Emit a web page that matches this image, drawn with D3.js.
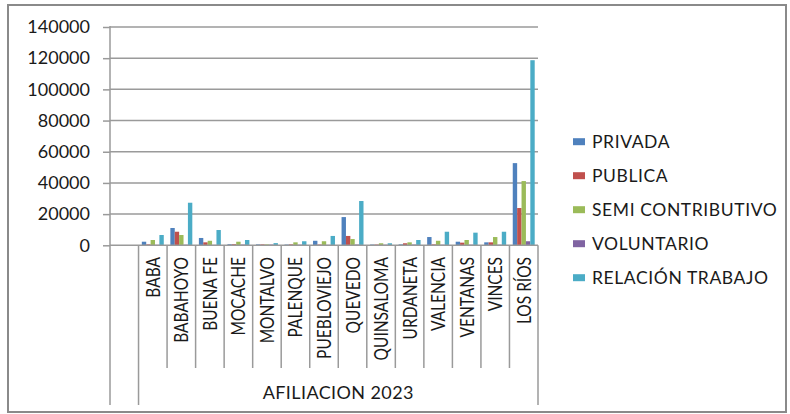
<!DOCTYPE html>
<html>
<head>
<meta charset="utf-8">
<script src="https://cdn.jsdelivr.net/npm/d3@7"></script>
<style>
  body { margin: 0; background: #fff; }
  svg text { font-family: Lato, "Open Sans", sans-serif; fill: #1a1a1a; }
</style>
</head>
<body>
<svg width="790" height="414"></svg>
<script>
// categories (first slot of the axis is blank, as in the original sheet)
var cantones = ["", "BABA", "BABAHOYO", "BUENA FE", "MOCACHE", "MONTALVO", "PALENQUE",
    "PUEBLOVIEJO", "QUEVEDO", "QUINSALOMA", "URDANETA", "VALENCIA", "VENTANAS", "VINCES", "LOS RÍOS"];
var series = ["PRIVADA", "PUBLICA", "SEMI CONTRIBUTIVO", "VOLUNTARIO", "RELACIÓN TRABAJO"];
var colores = ["#4F81BD", "#C0504D", "#9BBB59", "#8064A2", "#4BACC6"];

var privada   = [null, 2300, 11100, 4700, 700, 600, 500, 2900, 18100, 500, 600, 5300, 2300, 1900, 52700];
var publica   = [null, 600, 8700, 1900, 700, 600, 600, 500, 6000, 500, 1300, 600, 1700, 1900, 23900];
var semi      = [null, 3400, 6600, 2900, 2300, 600, 1900, 2600, 4000, 1300, 1900, 2900, 3400, 5300, 41200];
var voluntario = [null, 300, 400, 300, 500, 500, 400, 300, 500, 400, 500, 400, 400, 400, 2600];
var relacion  = [null, 6600, 27300, 9800, 3400, 1400, 2600, 6000, 28400, 1300, 3400, 8700, 8100, 8700, 118700];

var yTicks = [0, 20000, 40000, 60000, 80000, 100000, 120000, 140000];
var grupo = "AFILIACION 2023";

var valores = [privada, publica, semi, voluntario, relacion];

main();

function main() {
    var svg = d3.select("svg");

    var x0 = 110, x1 = 538, yTop = 27, base = 245.3;

    // borde del gráfico
    svg.append("rect")
        .attr("x", 8).attr("y", 5)
        .attr("width", 778).attr("height", 407)
        .attr("fill", "none")
        .attr("stroke", "#8a8a8a")
        .attr("stroke-width", 2);

    var x = d3.scaleBand().domain(d3.range(cantones.length)).range([x0, x1]).padding(0);
    var bw = x.bandwidth();
    var gap = bw * 1.5 / (series.length + 1.5);
    var xs = d3.scaleBand().domain(d3.range(series.length)).range([gap / 2, bw - gap / 2]).padding(0);

    var y = d3.scaleLinear().domain([0, 140000]).range([base, yTop]);

    // gridlines
    svg.append("g").selectAll("line")
        .data(yTicks.slice(1))
        .enter().append("line")
        .attr("x1", x0).attr("x2", x1)
        .attr("y1", d => y(d)).attr("y2", d => y(d))
        .attr("stroke", "#9a9a9a")
        .attr("stroke-width", 1.5);

    // eje y
    var yAxis = svg.append("g")
        .attr("transform", "translate(" + x0 + ",0)")
        .call(d3.axisLeft(y).tickValues(yTicks).tickSize(7).tickPadding(13).tickFormat(d3.format("d")));
    yAxis.select(".domain").remove();
    yAxis.selectAll("line").attr("stroke", "#9a9a9a").attr("stroke-width", 1.5);
    yAxis.selectAll("text")
        .style("font-size", "18px")
        .style("font-family", "Lato, sans-serif")
        .attr("fill", "#1a1a1a");

    // barras
    var barras = svg.append("g");
    valores.forEach(function (serie, s) {
        barras.selectAll("rect.s" + s)
            .data(serie.map((v, i) => ({ i: i, v: v })).filter(d => d.v != null))
            .enter().append("rect")
            .attr("class", "s" + s)
            .attr("x", d => x(d.i) + xs(s))
            .attr("width", xs.bandwidth())
            .attr("y", d => y(d.v))
            .attr("height", d => base - y(d.v))
            .attr("fill", colores[s]);
    });

    // eje de categorías (dos niveles)
    var ejes = svg.append("g").attr("stroke", "#9a9a9a").attr("stroke-width", 1.5);
    ejes.append("line").attr("x1", x0).attr("x2", x1).attr("y1", base).attr("y2", base);
    ejes.append("line").attr("x1", x0).attr("x2", x0).attr("y1", yTop - 1).attr("y2", 405);
    d3.range(1, cantones.length + 1).forEach(function (i) {
        var xx = x0 + i * bw;
        var largo = (i == 1 || i == cantones.length) ? 405 : 368;
        ejes.append("line").attr("x1", xx).attr("x2", xx).attr("y1", base).attr("y2", largo);
    });

    svg.append("g").selectAll("text")
        .data(cantones.slice(1))
        .enter().append("text")
        .attr("transform", (d, i) => "translate(" + (x(i + 1) + bw / 2 + 7) + ",257) rotate(-90) scale(1,1.3)")
        .attr("text-anchor", "end")
        .style("font-size", "15.5px")
        .text(d => d);

    svg.append("text")
        .attr("x", (x(1) + x1) / 2)
        .attr("y", 399)
        .attr("text-anchor", "middle")
        .style("font-size", "18px")
        .style("letter-spacing", "0.4px")
        .text(grupo);

    // leyenda
    var leyenda = svg.append("g").selectAll("g")
        .data(series)
        .enter().append("g")
        .attr("transform", (d, i) => "translate(573," + (141.7 + i * 34) + ")");
    leyenda.append("rect")
        .attr("x", 0).attr("y", -3.5)
        .attr("width", 12).attr("height", 7)
        .attr("fill", (d, i) => colores[i]);
    leyenda.append("text")
        .attr("x", 19).attr("y", 6.5)
        .style("font-size", "17.5px")
        .style("letter-spacing", "0.6px")
        .text(d => d);
}
</script>
</body>
</html>
